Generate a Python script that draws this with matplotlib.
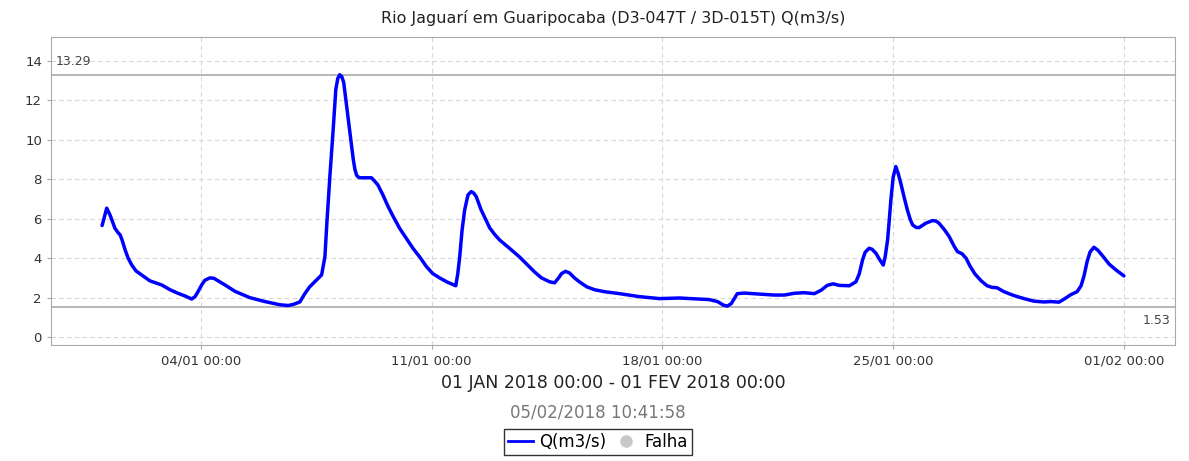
import matplotlib
matplotlib.use("Agg")
import matplotlib.pyplot as plt
import matplotlib.dates as mdates
from matplotlib.lines import Line2D
from datetime import datetime, timedelta

# ---- data ----
title = "Rio Jaguarí em Guaripocaba (D3-047T / 3D-015T) Q(m3/s)"
xlabel = "01 JAN 2018 00:00 - 01 FEV 2018 00:00"
subtitle = "05/02/2018 10:41:58"
series_name = "Q(m3/s)"
fail_name = "Falha"
base = datetime(2018, 1, 1)
max_val = 13.29
min_val = 1.53

day_offsets = [0.0, 0.14, 0.24, 0.39, 0.48, 0.55, 0.61, 0.70, 0.79, 0.90, 1.03, 1.20, 1.45, 1.81,
               2.06, 2.30, 2.52, 2.72, 2.82, 2.91, 3.02, 3.12, 3.27, 3.39, 3.52, 3.73, 4.03,
               4.48, 4.94, 5.39, 5.64, 5.79, 6.0, 6.15, 6.30, 6.48, 6.66, 6.76, 6.82, 6.91,
               7.01, 7.09, 7.15, 7.21, 7.27, 7.33, 7.39, 7.46, 7.55, 7.62, 7.67, 7.72, 7.79,
               7.87, 8.0, 8.17, 8.27, 8.37, 8.52, 8.68, 8.85, 9.03, 9.23, 9.43, 9.64, 9.84,
               10.03, 10.24, 10.48, 10.73, 10.79, 10.85, 10.92, 11.0, 11.1, 11.2, 11.27,
               11.35, 11.42, 11.5, 11.64, 11.76, 11.91, 12.06, 12.36, 12.67, 12.91, 13.12,
               13.33, 13.58, 13.73, 13.85, 13.94, 14.06, 14.18, 14.33, 14.48, 14.70, 14.94,
               15.24, 15.70, 16.30, 16.91, 17.52, 18.12, 18.42, 18.67, 18.85, 18.97, 19.09,
               19.18, 19.27, 19.48, 19.94, 20.39, 20.70, 21.0, 21.3, 21.61, 21.82, 22.0,
               22.18, 22.36, 22.67, 22.87, 22.97, 23.07, 23.15, 23.27, 23.36, 23.48, 23.58,
               23.70, 23.76, 23.83, 23.88, 23.93, 24.0, 24.08, 24.15, 24.23, 24.33, 24.43,
               24.52, 24.59, 24.70, 24.79, 24.99, 25.19, 25.30, 25.39, 25.55, 25.70, 25.85,
               25.95, 26.09, 26.21, 26.33, 26.48, 26.67, 26.85, 27.0, 27.15, 27.36, 27.67,
               27.97, 28.27, 28.58, 28.79, 29.03, 29.21, 29.39, 29.58, 29.70, 29.79, 29.88,
               29.97, 30.09, 30.21, 30.36, 30.55, 30.76, 31.0]
flow = [5.65, 6.53, 6.19, 5.51, 5.3, 5.17, 4.9, 4.41, 4.0, 3.65, 3.35, 3.15, 2.85, 2.64,
        2.4, 2.22, 2.08, 1.93, 2.05, 2.3, 2.64, 2.88, 3.0, 2.98, 2.85, 2.64, 2.32,
        2.0, 1.8, 1.64, 1.6, 1.65, 1.78, 2.2, 2.55, 2.85, 3.15, 4.07, 5.8, 8.13,
        10.5, 12.53, 13.1, 13.29, 13.2, 12.9, 12.1, 11.18, 10.0, 9.0, 8.5, 8.2, 8.08,
        8.07, 8.07, 8.07, 7.9, 7.7, 7.2, 6.6, 6.05, 5.5, 5.0, 4.5, 4.05, 3.57,
        3.22, 3.0, 2.78, 2.6, 3.2, 4.07, 5.4, 6.44, 7.2, 7.37, 7.3,
        7.12, 6.8, 6.44, 5.95, 5.53, 5.2, 4.92, 4.5, 4.05, 3.65, 3.3,
        3.0, 2.8, 2.75, 3.0, 3.22, 3.33, 3.25, 3.0, 2.8, 2.55, 2.4,
        2.3, 2.2, 2.05, 1.95, 1.98, 1.93, 1.9, 1.8, 1.62, 1.57, 1.7,
        1.95, 2.2, 2.23, 2.18, 2.13, 2.13, 2.22, 2.25, 2.2, 2.38, 2.62,
        2.7, 2.62, 2.6, 2.8, 3.2, 3.9, 4.3, 4.5, 4.45, 4.24, 3.95,
        3.65, 4.1, 4.92, 5.9, 6.95, 8.1, 8.64, 8.3, 7.8, 7.1, 6.44,
        5.95, 5.68, 5.55, 5.55, 5.77, 5.9, 5.88, 5.77, 5.45, 5.09, 4.6,
        4.33, 4.22, 4.0, 3.6, 3.2, 2.85, 2.6, 2.52, 2.5, 2.3, 2.1,
        1.95, 1.82, 1.78, 1.8, 1.77, 1.95, 2.15, 2.3, 2.6, 3.1, 3.8,
        4.3, 4.55, 4.4, 4.1, 3.7, 3.4, 3.1]
yticks = [0, 2, 4, 6, 8, 10, 12, 14]
xtick_days = [3, 10, 17, 24, 31]

times = [base + timedelta(days=d) for d in day_offsets]

fig = plt.figure(figsize=(11.89, 4.61), dpi=100)
ax = fig.add_axes([51/1189, 1-345/461, (1175-51)/1189, (345-37)/461])

ax.plot(times, flow, color="#0000ff", lw=2.5, solid_joinstyle="round",
        solid_capstyle="round", zorder=3)

ax.axhline(max_val, color="#aaaaaa", lw=1.2, zorder=2)
ax.axhline(min_val, color="#aaaaaa", lw=1.2, zorder=2)

pad = timedelta(days=1.55)
ax.set_xlim(base - pad, base + timedelta(days=31) + pad)
ax.set_ylim(-0.4, 15.2)
ax.set_yticks(yticks)
ax.set_xticks([base + timedelta(days=d) for d in xtick_days])
ax.xaxis.set_major_formatter(mdates.DateFormatter("%d/%m %H:%M"))

ax.grid(True, color="#d8d8d8", ls=(0, (4, 3)), lw=0.8)
for s in ax.spines.values():
    s.set_color("#aaaaaa")
ax.tick_params(axis="both", colors="#aaaaaa", labelcolor="#333333", labelsize=9.5, length=3)

ax.text(0.004, max_val + 0.35, f"{max_val:.2f}", transform=ax.get_yaxis_transform(),
        fontsize=9, color="#444444", ha="left", va="bottom")
ax.text(0.996, min_val - 0.35, f"{min_val:.2f}", transform=ax.get_yaxis_transform(),
        fontsize=9, color="#444444", ha="right", va="top")

fig.text(613/1189, 1-18/461, title, ha="center", va="center", fontsize=11.5, color="#222222")
fig.text(613/1189, 1-383/461, xlabel, ha="center", va="center", fontsize=12.5, color="#222222")
fig.text(598/1189, 1-412/461, subtitle, ha="center", va="center", fontsize=12, color="#777777")

handles = [Line2D([], [], color="#0000ff", lw=2),
           Line2D([], [], color="#c8c8c8", marker="o", ls="none", markersize=8)]
leg = fig.legend(handles, [series_name, fail_name], loc="center", bbox_to_anchor=(598/1189, 1-442/461),
                 ncol=2, frameon=True, fancybox=False, fontsize=12, handlelength=1.5,
                 handletextpad=0.4, columnspacing=0.4, borderpad=0.25, borderaxespad=0)
leg.get_frame().set_edgecolor("black")
leg.get_frame().set_linewidth(1.0)

fig.savefig("out.png", dpi=100)
